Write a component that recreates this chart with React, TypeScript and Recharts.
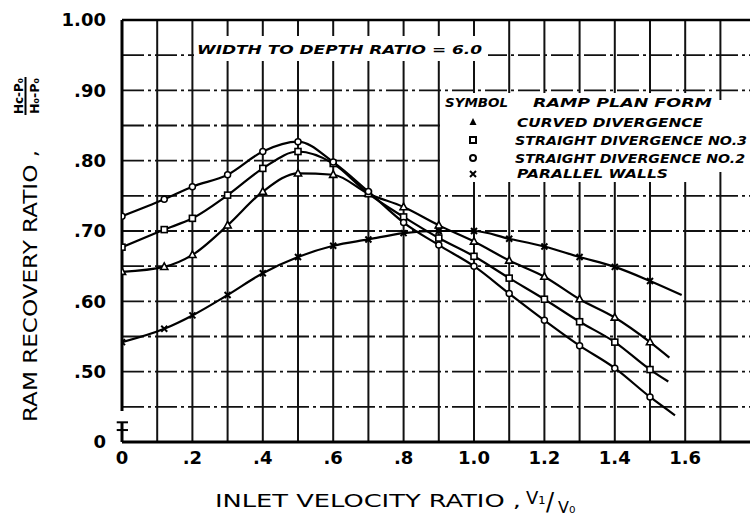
import React from "react";
import { LineChart, Line, XAxis, YAxis, CartesianGrid, ReferenceLine } from "recharts";

// shared measurement points (inlet velocity ratio)
const xPoints = [0, 0.12, 0.2, 0.3, 0.4, 0.5, 0.6, 0.7, 0.8, 0.9, 1.0, 1.1, 1.2, 1.3, 1.4, 1.5];

// curved divergence (triangle)
const xEndCurved = 1.555;
const yCurved = [0.642, 0.649, 0.666, 0.708, 0.756, 0.782, 0.78, 0.753, 0.734, 0.708, 0.685, 0.658, 0.635, 0.603, 0.577, 0.542, 0.52];
// straight divergence No.3 (square)
const xEndNo3 = 1.552;
const yNo3 = [0.677, 0.702, 0.718, 0.751, 0.789, 0.813, 0.796, 0.753, 0.72, 0.69, 0.664, 0.633, 0.603, 0.571, 0.542, 0.503, 0.486];
// straight divergence No.2 (circle)
const xEndNo2 = 1.571;
const yNo2 = [0.721, 0.745, 0.763, 0.78, 0.813, 0.827, 0.798, 0.756, 0.712, 0.68, 0.65, 0.611, 0.573, 0.537, 0.505, 0.464, 0.438];
// parallel walls (x)
const xEndWalls = 1.59;
const yWalls = [0.542, 0.561, 0.58, 0.609, 0.64, 0.663, 0.679, 0.688, 0.697, 0.7, 0.7, 0.689, 0.678, 0.663, 0.649, 0.629, 0.609];

const xTicks = [0, 0.2, 0.4, 0.6, 0.8, 1.0, 1.2, 1.4, 1.6];
const yTicks = [0.4, 0.5, 0.6, 0.7, 0.8, 0.9, 1.0];
const xGrid = [0.1, 0.2, 0.3, 0.4, 0.5, 0.6, 0.7, 0.8, 0.9, 1.0, 1.1, 1.2, 1.3, 1.4, 1.5, 1.6, 1.7];
const yGrid = [0.45, 0.5, 0.55, 0.6, 0.65, 0.7, 0.75, 0.8, 0.85, 0.9, 0.95];

const build = (ys: number[], xEnd: number) =>
  ys.map((y, i) => ({ x: i < xPoints.length ? xPoints[i] : xEnd, y }));

const dataCurved = build(yCurved, xEndCurved);
const dataNo3 = build(yNo3, xEndNo3);
const dataNo2 = build(yNo2, xEndNo2);
const dataWalls = build(yWalls, xEndWalls);

const makeDot = (kind: string, lastIndex: number) => (props: any) => {
  const { cx, cy, index } = props;
  const key = `${kind}-${index}`;
  if (index === lastIndex || cx == null || cy == null) return <g key={key} />;
  if (kind === "triangle")
    return (
      <path key={key} d={`M${cx},${cy - 4} L${cx + 3.6},${cy + 2.6} L${cx - 3.6},${cy + 2.6} Z`} fill="#fff" stroke="#000" strokeWidth={1.6} />
    );
  if (kind === "square")
    return <rect key={key} x={cx - 3} y={cy - 3} width={6} height={6} fill="#fff" stroke="#000" strokeWidth={1.6} />;
  if (kind === "circle")
    return <circle key={key} cx={cx} cy={cy} r={3} fill="#fff" stroke="#000" strokeWidth={1.5} />;
  return (
    <path key={key} d={`M${cx - 3},${cy - 3} L${cx + 3},${cy + 3} M${cx + 3},${cy - 3} L${cx - 3},${cy + 3}`} stroke="#000" strokeWidth={2} />
  );
};

const fmtX = (v: number) => {
  if (v === 0) return "0";
  if (v >= 1) return v.toFixed(1);
  return v.toFixed(1).replace(/^0/, "");
};
const fmtY = (v: number) => {
  if (Math.abs(v - 0.4) < 1e-6) return "0";
  if (Math.abs(v - 1) < 1e-6) return "1.00";
  return v.toFixed(2).replace(/^0/, "");
};

const tickStyle = { fill: "#000", fontFamily: "DejaVu Sans", fontWeight: 700, fontSize: 18 };
const noteFont = { fontFamily: "DejaVu Sans", fontStyle: "italic", fontWeight: 700, fontSize: 12 } as const;

export default function App() {
  return (
    <div style={{ position: "absolute", left: 0, top: 0, width: 750, height: 519, overflow: "hidden", background: "#fff" }}>
      <LineChart width={760} height={519} margin={{ top: 20, right: 4.4, left: 0, bottom: 47 }}>
        <CartesianGrid horizontal={false} verticalValues={xGrid} stroke="#111" strokeWidth={2} />
        <CartesianGrid vertical={false} horizontalValues={yGrid} stroke="#111" strokeWidth={1.8} strokeDasharray="22 4 3 4" />
        <XAxis
          dataKey="x"
          type="number"
          domain={[0, 1.8]}
          ticks={xTicks}
          tickFormatter={fmtX}
          allowDataOverflow
          height={30}
          tickLine={false}
          tickSize={0}
          tickMargin={9}
          axisLine={{ stroke: "#000", strokeWidth: 3 }}
          tick={tickStyle}
          interval={0}
        />
        <YAxis
          type="number"
          domain={[0.4, 1.0]}
          ticks={yTicks}
          tickFormatter={fmtY}
          allowDataOverflow
          width={122}
          tickLine={false}
          tickSize={0}
          tickMargin={16}
          axisLine={false}
          tick={tickStyle}
          interval={0}
        />
        <ReferenceLine y={1.0} stroke="#000" strokeWidth={2.5} />
        <ReferenceLine segment={[{ x: 0, y: 0.444 }, { x: 0, y: 1.0 }]} stroke="#000" strokeWidth={3} ifOverflow="visible" />
        <ReferenceLine segment={[{ x: 0, y: 0.4 }, { x: 0, y: 0.428 }]} stroke="#000" strokeWidth={3} ifOverflow="visible" />
        <ReferenceLine segment={[{ x: -0.015, y: 0.428 }, { x: 0.017, y: 0.428 }]} stroke="#000" strokeWidth={2} ifOverflow="visible" />
        <ReferenceLine segment={[{ x: -0.015, y: 0.417 }, { x: 0.017, y: 0.417 }]} stroke="#000" strokeWidth={2} ifOverflow="visible" />
        <Line data={dataCurved} dataKey="y" type="monotone" stroke="#000" strokeWidth={2.2} dot={makeDot("triangle", dataCurved.length - 1)} isAnimationActive={false} />
        <Line data={dataNo3} dataKey="y" type="monotone" stroke="#000" strokeWidth={2.2} dot={makeDot("square", dataNo3.length - 1)} isAnimationActive={false} />
        <Line data={dataNo2} dataKey="y" type="monotone" stroke="#000" strokeWidth={2.2} dot={makeDot("circle", dataNo2.length - 1)} isAnimationActive={false} />
        <Line data={dataWalls} dataKey="y" type="monotone" stroke="#000" strokeWidth={2.2} dot={makeDot("x", dataWalls.length - 1)} isAnimationActive={false} />
      </LineChart>
      <svg width={750} height={519} style={{ position: "absolute", left: 0, top: 0, pointerEvents: "none" }}>
        {/* title note */}
        <rect x={194} y={36} width={294} height={25} fill="#fff" />
        <text x={197} y={54} {...noteFont} textLength={285} lengthAdjust="spacingAndGlyphs">WIDTH TO DEPTH RATIO  =  6.0</text>
        {/* legend */}
        <rect x={440} y={93} width={276} height={89} fill="#fff" />
        <rect x={716} y={100} width={34} height={72} fill="#fff" />
        <text x={445} y={107} {...noteFont} textLength={63} lengthAdjust="spacingAndGlyphs">SYMBOL</text>
        <text x={533} y={107} {...noteFont} textLength={179} lengthAdjust="spacingAndGlyphs">RAMP PLAN FORM</text>
        <path d="M473,118 L476.5,125 L469.5,125 Z" fill="#000" />
        <text x={517} y={127} {...noteFont} textLength={186} lengthAdjust="spacingAndGlyphs">CURVED DIVERGENCE</text>
        <rect x={470} y={137} width={6} height={6} fill="#fff" stroke="#000" strokeWidth={2} />
        <text x={515} y={145} {...noteFont} textLength={232} lengthAdjust="spacingAndGlyphs">STRAIGHT DIVERGENCE NO.3</text>
        <circle cx={473} cy={158} r={3} fill="#fff" stroke="#000" strokeWidth={2} />
        <text x={515} y={163} {...noteFont} textLength={230} lengthAdjust="spacingAndGlyphs">STRAIGHT DIVERGENCE NO.2</text>
        <path d="M470,171 L476,177 M476,171 L470,177" stroke="#000" strokeWidth={2} />
        <text x={517} y={178} {...noteFont} textLength={151} lengthAdjust="spacingAndGlyphs">PARALLEL WALLS</text>
        {/* y axis title */}
        <text transform="translate(37,422) rotate(-90)" fontFamily="DejaVu Sans" fontSize={19} fill="#000" textLength={272} lengthAdjust="spacingAndGlyphs">RAM RECOVERY RATIO ,</text>
        <text transform="translate(23,96) rotate(-90)" fontFamily="DejaVu Sans" fontWeight={700} fontSize={13} textAnchor="middle" textLength={36} lengthAdjust="spacingAndGlyphs">Hc-P₀</text>
        <line x1={25.5} y1={77} x2={25.5} y2={115} stroke="#000" strokeWidth={2} />
        <text transform="translate(39,96) rotate(-90)" fontFamily="DejaVu Sans" fontWeight={700} fontSize={13} textAnchor="middle" textLength={36} lengthAdjust="spacingAndGlyphs">H₀-P₀</text>
        {/* x axis title */}
        <text x={215} y={507} fontFamily="DejaVu Sans" fontSize={18} fill="#000" textLength={306} lengthAdjust="spacingAndGlyphs">INLET VELOCITY RATIO ,</text>
        <text x={526} y={504} fontFamily="DejaVu Sans" fontSize={18}>V₁</text>
        <text x={546} y={510} fontFamily="DejaVu Sans" fontSize={24}>/</text>
        <text x={558} y={513} fontFamily="DejaVu Sans" fontSize={16}>V₀</text>
      </svg>
    </div>
  );
}
